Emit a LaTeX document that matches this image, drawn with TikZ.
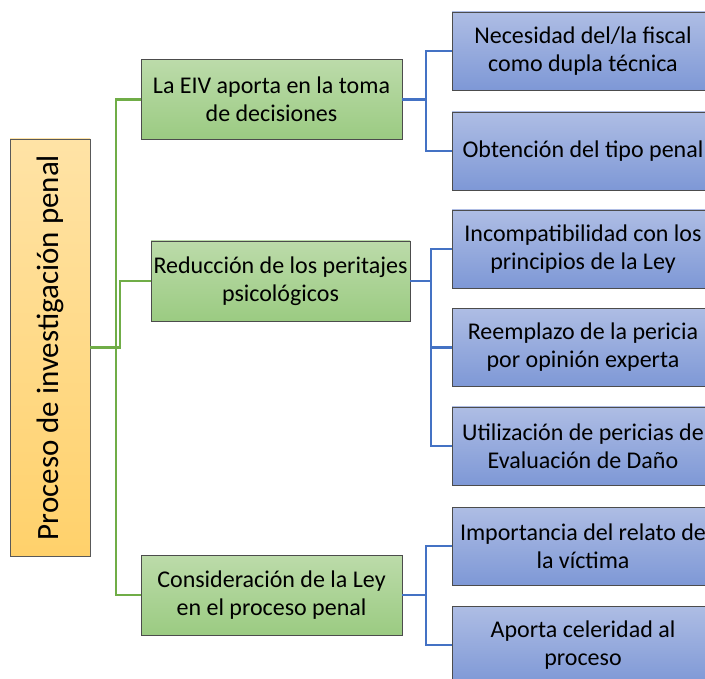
\documentclass[tikz,border=0pt]{standalone}
\usepackage{fontspec}
\setmainfont{Carlito}
\definecolor{orangetop}{HTML}{FFE3A6}
\definecolor{orangebot}{HTML}{FFD16B}
\definecolor{greentop}{HTML}{BCDBAA}
\definecolor{greenbot}{HTML}{9BCB82}
\definecolor{bluetop}{HTML}{AEBDE4}
\definecolor{bluebot}{HTML}{7E98D6}
\definecolor{greenln}{HTML}{70AD47}
\definecolor{blueln}{HTML}{4472C4}
\begin{document}
\begin{tikzpicture}[x=1pt,y=-1pt,
  rootbox/.style={draw=gray!70!black,top color=orangetop,bottom color=orangebot,
    minimum width=80pt,minimum height=417pt,inner sep=0pt},
  themebox/.style={draw=gray!60!black,top color=greentop,bottom color=greenbot,
    minimum width=261pt,minimum height=80pt,inner sep=0pt,align=center,
    font=\fontsize{24}{28}\selectfont},
  itembox/.style={draw=gray!60!black,top color=bluetop,bottom color=bluebot,
    minimum width=262pt,minimum height=78pt,inner sep=0pt,align=center,
    font=\fontsize{24}{28}\selectfont},
  greenline/.style={draw=greenln,line width=2.4pt},
  blueline/.style={draw=blueln,line width=2.4pt}]
\useasboundingbox (0,0) rectangle (705,679);
\clip (0,0) rectangle (705,679);
% root
\node[rootbox] (root) at (50,347.5) {};
\node[rotate=90,font=\fontsize{31}{36}\selectfont] (rootlbl) at (root.center)
  {Proceso de investigación penal};
% second level
\node[themebox] (eiv) at (271.5,99.5) {La EIV aporta en la toma\\de decisiones};
\node[themebox,minimum width=259pt] (perit) at (280.5,281) {Reducción de los peritajes\\psicológicos};
\node[themebox] (ley) at (271.5,595) {Consideración de la Ley\\en el proceso penal};
% third level
\node[itembox] (fiscal) at (583,51) {Necesidad del/la fiscal\\como dupla técnica};
\node[itembox] (tipo) at (583,151) {Obtención del tipo penal};
\node[itembox] (incomp) at (583,249) {Incompatibilidad con los\\principios de la Ley};
\node[itembox] (reemp) at (583,347.5) {Reemplazo de la pericia\\por opinión experta};
\node[itembox] (dano) at (583,446) {Utilización de pericias de\\Evaluación de Daño};
\node[itembox] (relato) at (583,546) {Importancia del relato de\\la víctima};
\node[itembox] (celer) at (583,645) {Aporta celeridad al\\proceso};
% green connectors
\draw[greenline] (root.east) -- ++(26,0) |- (eiv.west);
\draw[greenline] (root.east) -- ++(30,0) |- (perit.west);
\draw[greenline] (root.east) -- ++(26,0) |- (ley.west);
% blue connectors
\draw[blueline] (eiv.east) -- ++(24,0) |- (fiscal.west);
\draw[blueline] (eiv.east) -- ++(24,0) |- (tipo.west);
\draw[blueline] (perit.east) -- ++(21,0) |- (incomp.west);
\draw[blueline] (perit.east) -- ++(21,0) |- (reemp.west);
\draw[blueline] (perit.east) -- ++(21,0) |- (dano.west);
\draw[blueline] (ley.east) -- ++(24,0) |- (relato.west);
\draw[blueline] (ley.east) -- ++(24,0) |- (celer.west);
\end{tikzpicture}
\end{document}
